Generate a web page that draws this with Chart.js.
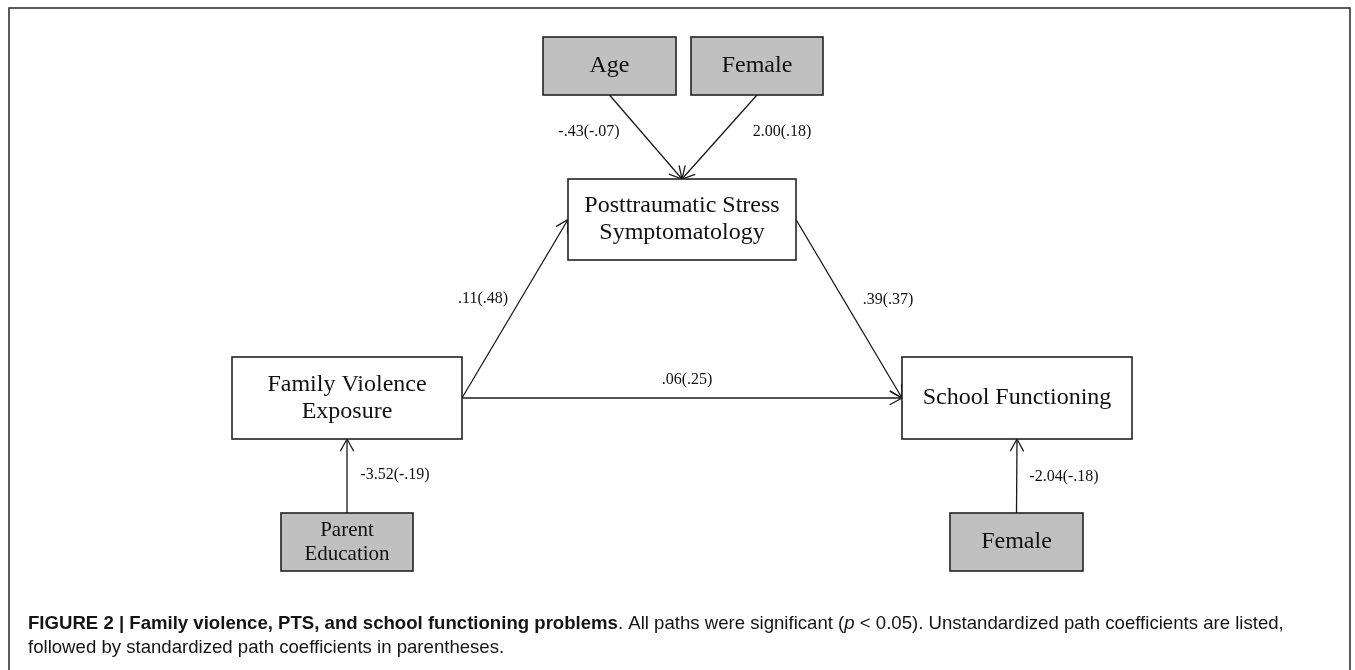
<!DOCTYPE html>
<html>
<head>
<meta charset="utf-8">
<script src="https://cdn.jsdelivr.net/npm/chart.js@4.4.1/dist/chart.umd.min.js"></script>
<style>
  html, body { margin: 0; padding: 0; background: #fff; overflow: hidden; }
</style>
</head>
<body>
<canvas id="diagram" width="1355" height="670"></canvas>
<script>
// nodes of the path model
const nodeNames = ['Age', 'Female', 'Posttraumatic Stress\nSymptomatology', 'Family Violence\nExposure',
                   'School Functioning', 'Parent\nEducation', 'Female'];
const nodeIsCovariate = [true, true, false, false, false, true, true];

// paths (index into nodeNames) and their coefficients
const pathFrom = [0, 1, 3, 2, 3, 5, 6];
const pathTo   = [2, 2, 2, 4, 4, 3, 4];
const pathB    = ['-.43', '2.00', '.11', '.39', '.06', '-3.52', '-2.04'];
const pathBeta = ['-.07', '.18', '.48', '.37', '.25', '-.19', '-.18'];

// layout in diagram units: box [left, top, right, bottom], path anchors, label spots
const nodeBox = [
  [543, 37, 676, 95], [691, 37, 823, 95], [568, 179, 796, 260], [232, 357, 462, 439],
  [902, 357, 1132, 439], [281, 513, 413, 571], [950, 513, 1083, 571]
];
const nodeFont = [24, 24, 24, 24, 24, 21, 24];
const nodeLineGap = [0, 0, 27, 27, 0, 24, 0];
const pathAnchor = [['bottom', 'top'], ['bottom', 'top'], ['right', 'left'], ['right', 'left'],
                    ['right', 'left'], ['top', 'bottom'], ['top', 'bottom']];
const labelAt = [[589, 132], [782, 132], [483, 299], [888, 300], [687, 380], [395, 475], [1064, 477]];

function anchorPoint(i, side) {
  const [l, t, r, b] = nodeBox[i];
  if (side === 'top') return {x: (l + r) / 2, y: t};
  if (side === 'bottom') return {x: (l + r) / 2, y: b};
  if (side === 'left') return {x: l, y: (t + b) / 2};
  return {x: r, y: (t + b) / 2};
}

const pathDatasets = pathFrom.map((f, i) => ({
  type: 'line',
  data: [anchorPoint(f, pathAnchor[i][0]), anchorPoint(pathTo[i], pathAnchor[i][1])],
  borderColor: '#1a1a1a',
  borderWidth: 1.3,
  pointRadius: 0,
  showLine: true,
  fill: false
}));

const diagramPlugin = {
  id: 'pathDiagram',
  afterDatasetsDraw(chart) {
    const ctx = chart.ctx;
    const xs = chart.scales.x, ys = chart.scales.y;
    const px = v => xs.getPixelForValue(v), py = v => ys.getPixelForValue(v);
    ctx.save();

    // outer frame
    ctx.strokeStyle = '#333';
    ctx.lineWidth = 1.6;
    ctx.strokeRect(px(9), py(8), px(1350) - px(9), py(700) - py(8));

    // arrow heads
    ctx.strokeStyle = '#1a1a1a';
    ctx.lineWidth = 1.3;
    pathDatasets.forEach(ds => {
      const a = ds.data[0], b = ds.data[1];
      const ang = Math.atan2(py(b.y) - py(a.y), px(b.x) - px(a.x));
      const len = 14, spread = 0.5;
      ctx.beginPath();
      ctx.moveTo(px(b.x) - len * Math.cos(ang - spread), py(b.y) - len * Math.sin(ang - spread));
      ctx.lineTo(px(b.x), py(b.y));
      ctx.lineTo(px(b.x) - len * Math.cos(ang + spread), py(b.y) - len * Math.sin(ang + spread));
      ctx.stroke();
    });

    // boxes
    nodeNames.forEach((name, i) => {
      const [l, t, r, b] = nodeBox[i];
      ctx.fillStyle = nodeIsCovariate[i] ? '#c0c0c0' : '#fff';
      ctx.fillRect(px(l), py(t), px(r) - px(l), py(b) - py(t));
      ctx.strokeStyle = '#222';
      ctx.lineWidth = 1.6;
      ctx.strokeRect(px(l), py(t), px(r) - px(l), py(b) - py(t));
      ctx.fillStyle = '#111';
      ctx.font = nodeFont[i] + 'px "Liberation Serif", "Times New Roman", serif';
      ctx.textAlign = 'center';
      ctx.textBaseline = 'middle';
      const lines = name.split('\n');
      const cx = px((l + r) / 2), cy = py((t + b) / 2);
      lines.forEach((ln, k) => {
        ctx.fillText(ln, cx, cy + (k - (lines.length - 1) / 2) * nodeLineGap[i]);
      });
    });

    // coefficient labels
    ctx.font = '16px "Liberation Serif", "Times New Roman", serif';
    ctx.fillStyle = '#111';
    pathB.forEach((b, i) => {
      ctx.fillText(b + '(' + pathBeta[i] + ')', px(labelAt[i][0]), py(labelAt[i][1]));
    });

    // caption
    ctx.textAlign = 'left';
    ctx.textBaseline = 'alphabetic';
    ctx.fillStyle = '#141414';
    const fam = '"Liberation Sans", Arial, sans-serif';
    const size = 18.6;
    const runs = [
      ['bold', 'FIGURE 2 | Family violence, PTS, and school functioning problems'],
      ['normal', '. All paths were significant ('],
      ['italic', 'p'],
      ['normal', ' < 0.05). Unstandardized path coefficients are listed,']
    ];
    let x = px(28);
    runs.forEach(([st, txt]) => {
      ctx.font = st + ' ' + size + 'px ' + fam;
      ctx.fillText(txt, x, py(629));
      x += ctx.measureText(txt).width;
    });
    ctx.font = 'normal ' + size + 'px ' + fam;
    ctx.fillText('followed by standardized path coefficients in parentheses.', px(28), py(653));
    ctx.restore();
  }
};

new Chart(document.getElementById('diagram'), {
  type: 'scatter',
  data: { datasets: pathDatasets },
  options: {
    responsive: false,
    animation: false,
    devicePixelRatio: 1,
    layout: { padding: 0 },
    plugins: { legend: { display: false }, tooltip: { enabled: false } },
    scales: {
      x: { type: 'linear', min: 0, max: 1355, display: false },
      y: { type: 'linear', min: 0, max: 670, reverse: true, display: false }
    }
  },
  plugins: [diagramPlugin]
});
</script>
</body>
</html>
